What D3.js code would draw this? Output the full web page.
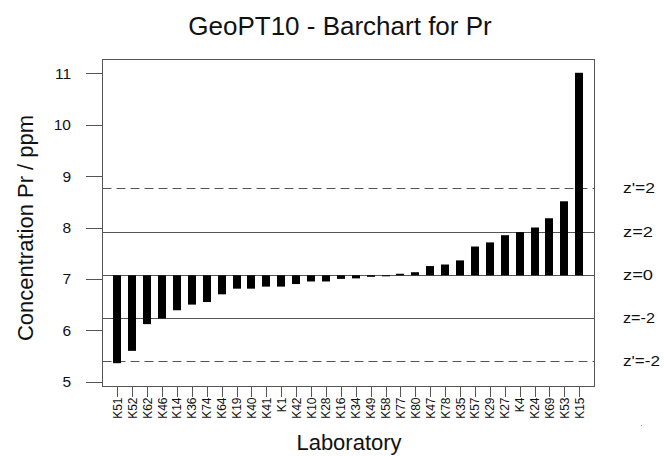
<!DOCTYPE html>
<html>
<head>
<meta charset="utf-8">
<script src="https://cdn.jsdelivr.net/npm/d3@7"></script>
<style>
  body { margin: 0; background: #fff; }
  svg { font-family: "Liberation Sans", Arial, sans-serif; }
</style>
</head>
<body>
<svg class="chart" width="664" height="456"></svg>
<script>
// labs sorted by reported value
const labs = ['K51', 'K52', 'K62', 'K46', 'K14', 'K36', 'K74', 'K64', 'K19', 'K40',
  'K41', 'K1', 'K42', 'K10', 'K28', 'K16', 'K34', 'K49', 'K58', 'K77', 'K80',
  'K47', 'K78', 'K35', 'K57', 'K29', 'K27', 'K4', 'K24', 'K69', 'K53', 'K15']
const values = [5.36, 5.60, 6.12, 6.23, 6.39, 6.50, 6.55, 6.70, 6.81, 6.81,
  6.85, 6.85, 6.90, 6.95, 6.95, 7.00, 7.01, 7.04, 7.05, 7.10, 7.13,
  7.25, 7.28, 7.36, 7.63, 7.71, 7.85, 7.91, 8.00, 8.18, 8.51, 11.01]
const yTicks = [5, 6, 7, 8, 9, 10, 11]

const assigned = 7.07
const refLines = [
  { label: "z'=2", value: 8.77, dash: true, len: 32 },
  { label: 'z=2', value: 7.91, dash: false, len: 30 },
  { label: 'z=0', value: assigned, dash: false, len: 30 },
  { label: 'z=-2', value: 6.24, dash: false, len: 32 },
  { label: "z'=-2", value: 5.40, dash: true, len: 37 }
]

const box = { left: 102.5, right: 594.5, top: 59.5, bottom: 386.5 }
const grey = '#555'

const svg = d3.select('svg.chart')

const y = d3.scaleLinear().domain([5, 11]).range([381.7, 73.3])
const x = d3.scalePoint().domain(labs).range([117.3, 579.3])
const barW = 8

// reference lines
svg.append('g')
  .selectAll('line')
  .data(refLines)
  .join('line')
  .attr('x1', box.left)
  .attr('x2', box.right)
  .attr('y1', d => Math.round(y(d.value)) + 0.5)
  .attr('y2', d => Math.round(y(d.value)) + 0.5)
  .attr('stroke', grey)
  .attr('stroke-width', 1)
  .attr('stroke-dasharray', d => d.dash ? '9,5' : null)

// labels look stretched sideways in the original
svg.append('g')
  .selectAll('text')
  .data(refLines)
  .join('text')
  .attr('x', 623)
  .attr('y', d => y(d.value) + 5)
  .attr('font-size', 14)
  .attr('textLength', d => d.len)
  .attr('lengthAdjust', 'spacingAndGlyphs')
  .attr('fill', '#111')
  .text(d => d.label)

// bars from assigned value
svg.append('g')
  .selectAll('rect')
  .data(labs.map((l, i) => ({ lab: l, value: values[i] })))
  .join('rect')
  .attr('x', d => Math.round(x(d.lab) - barW / 2))
  .attr('width', barW)
  .attr('y', d => y(Math.max(d.value, assigned)))
  .attr('height', d => Math.max(1, Math.abs(y(d.value) - y(assigned))))
  .attr('fill', '#000')

// box
svg.append('rect')
  .attr('x', box.left)
  .attr('y', box.top)
  .attr('width', box.right - box.left)
  .attr('height', box.bottom - box.top)
  .attr('fill', 'none')
  .attr('stroke', grey)

// y axis
const yAxis = svg.append('g')
yAxis.selectAll('line')
  .data(yTicks)
  .join('line')
  .attr('x1', 86)
  .attr('x2', box.left)
  .attr('y1', d => Math.round(y(d)) + 0.5)
  .attr('y2', d => Math.round(y(d)) + 0.5)
  .attr('stroke', grey)
yAxis.selectAll('text')
  .data(yTicks)
  .join('text')
  .attr('x', 71)
  .attr('y', d => y(d) + 5.5)
  .attr('text-anchor', 'end')
  .attr('font-size', 15.5)
  .attr('fill', '#111')
  .text(d => d)

// x axis
const xAxis = svg.append('g')
xAxis.selectAll('line')
  .data(labs)
  .join('line')
  .attr('x1', d => Math.round(x(d)) + 0.5)
  .attr('x2', d => Math.round(x(d)) + 0.5)
  .attr('y1', box.bottom)
  .attr('y2', 397)
  .attr('stroke', grey)
xAxis.selectAll('text')
  .data(labs)
  .join('text')
  .attr('transform', d => `translate(${x(d) + 4.5}, 397.5) rotate(-90)`)
  .attr('text-anchor', 'end')
  .attr('font-size', 12)
  .attr('fill', '#111')
  .text(d => d)

// titles
svg.append('text')
  .attr('x', 340)
  .attr('y', 35)
  .attr('text-anchor', 'middle')
  .attr('font-size', 26)
  .attr('fill', '#111')
  .text('GeoPT10 - Barchart for Pr')

svg.append('text')
  .attr('x', 349)
  .attr('y', 450)
  .attr('text-anchor', 'middle')
  .attr('font-size', 22)
  .attr('fill', '#111')
  .text('Laboratory')

svg.append('text')
  .attr('transform', 'translate(33, 228) rotate(-90)')
  .attr('text-anchor', 'middle')
  .attr('font-size', 22)
  .attr('fill', '#111')
  .text('Concentration Pr / ppm')

// stray speck bottom right in the original
svg.append('rect')
  .attr('x', 641)
  .attr('y', 425)
  .attr('width', 1)
  .attr('height', 1)
  .attr('fill', '#999')
</script>
</body>
</html>
